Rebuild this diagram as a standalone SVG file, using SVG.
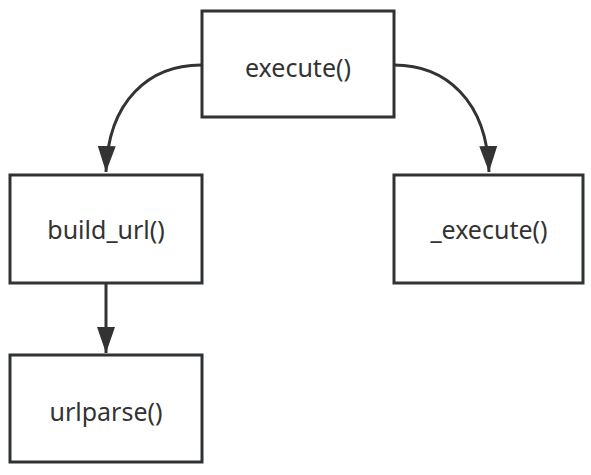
<svg xmlns="http://www.w3.org/2000/svg" width="591" height="475" viewBox="0 0 591 475">
<style>
.box{fill:#fff;stroke:#2f3336;stroke-width:3}
.lbl{font-family:"Noto Sans","Open Sans",sans-serif;font-size:25px;fill:#333;text-anchor:middle;dominant-baseline:central}
.edge{fill:none;stroke:#333;stroke-width:3}
</style>
<defs>
<marker id="arr" markerUnits="userSpaceOnUse" markerWidth="28" markerHeight="20" refX="26" refY="9" orient="auto">
<path d="M0,0 L26,9 L0,18 Z" fill="#333"/>
</marker>
</defs>
<rect width="591" height="475" fill="#fff"/>
<g id="connectors">
<path class="edge" d="M201,65 C150,65 108,100 106,172" marker-end="url(#arr)"/>
<path class="edge" d="M394,65 C445,65 487,100 489,172" marker-end="url(#arr)"/>
<path class="edge" d="M106,283 L106,353" marker-end="url(#arr)"/>
</g>
<g id="execute"><rect class="box" x="202" y="11" width="192" height="106"/><text class="lbl" x="298" y="67">execute()</text></g>
<g id="build_url"><rect class="box" x="10" y="175" width="192" height="108"/><text class="lbl" x="106" y="229">build_url()</text></g>
<g id="_execute"><rect class="box" x="394" y="175" width="189" height="108"/><text class="lbl" x="489" y="229">_execute()</text></g>
<g id="urlparse"><rect class="box" x="10" y="355" width="192" height="107"/><text class="lbl" x="106" y="411">urlparse()</text></g>
</svg>
